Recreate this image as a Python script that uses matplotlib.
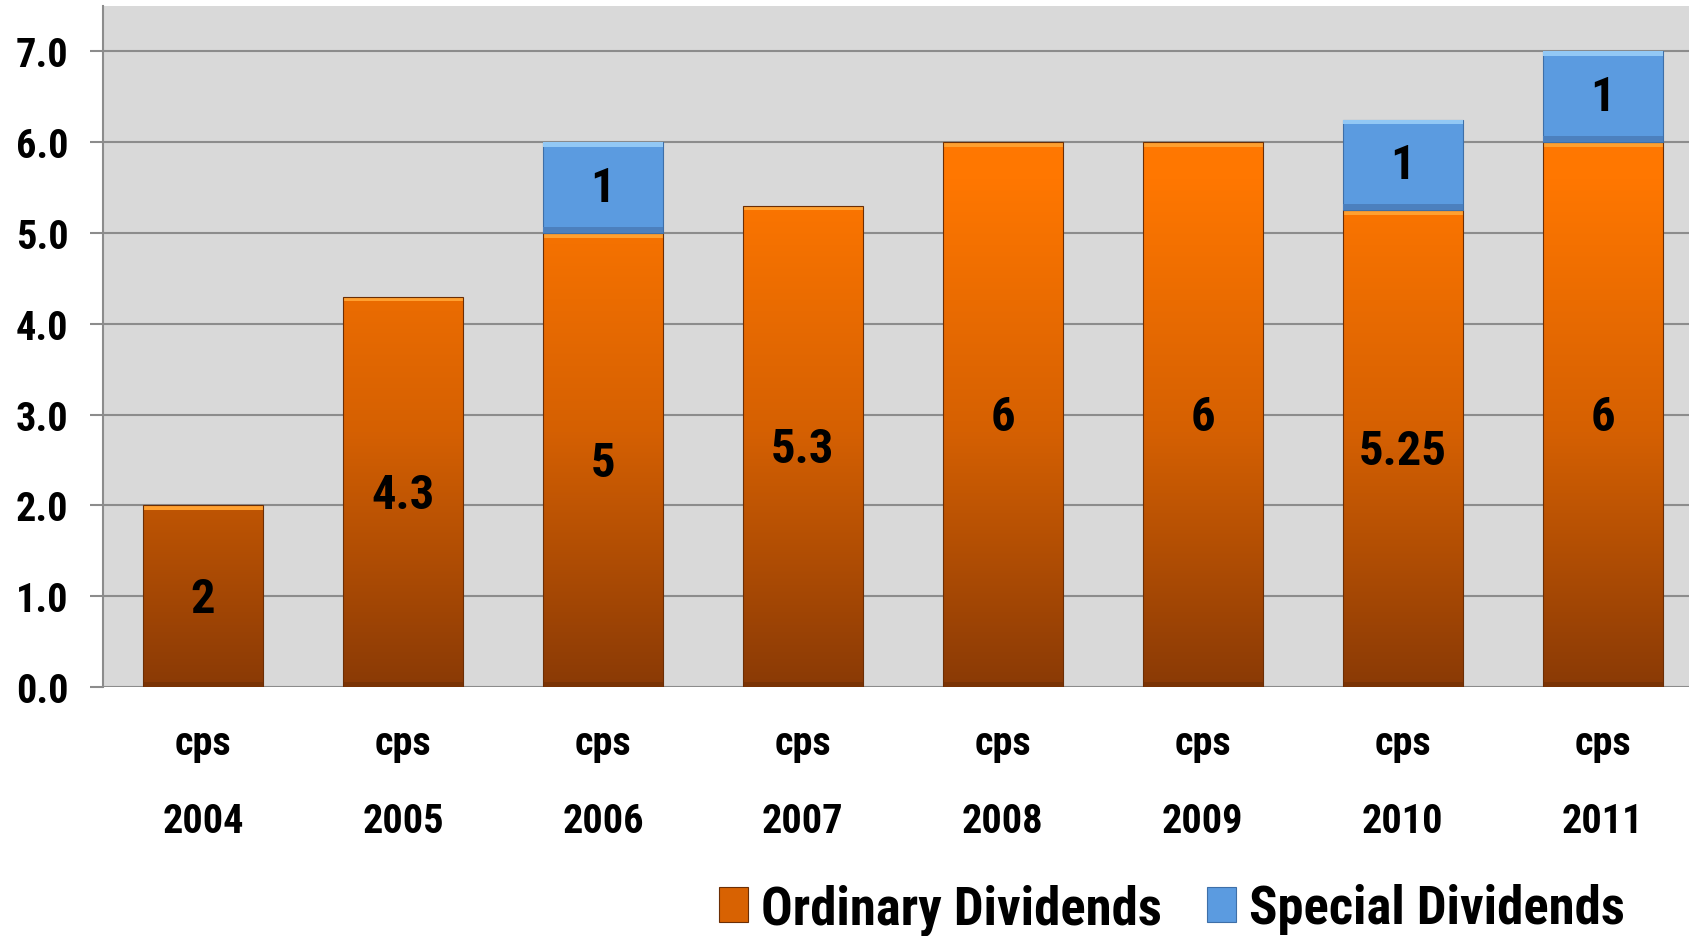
import numpy as np
import matplotlib
matplotlib.use('Agg')
import matplotlib.pyplot as plt
from matplotlib import font_manager
from matplotlib.colors import LinearSegmentedColormap
from matplotlib.patches import Patch, Rectangle

#%% data (cents per share)
years = ['2004', '2005', '2006', '2007', '2008', '2009', '2010', '2011']
ordinary = [2, 4.3, 5, 5.3, 6, 6, 5.25, 6]
special = [0, 0, 1, 0, 0, 0, 1, 1]
yticks = [0, 1, 2, 3, 4, 5, 6, 7]

# look for a narrow / condensed bold face (the original uses Arial Narrow Bold)
cands = []
for f in font_manager.fontManager.ttflist:
    fn = f.fname.lower()
    narrow = ('narrow' in fn or 'condensed' in fn or
              f.stretch in ('condensed', 'semi-condensed', 'extra-condensed'))
    bold = f.weight in ('bold', 700) or 'bold' in fn
    if narrow and bold and 'extra' not in fn and 'semi' not in fn and 'italic' not in fn:
        cands.append(f)
pref = ['liberation', 'roboto', 'dejavu', 'noto', 'open']
cands.sort(key=lambda f: next((i for i, p in enumerate(pref) if p in f.fname.lower()), 99))
if cands:
    fp = dict(fname=cands[0].fname)
else:
    fp = dict(family='DejaVu Sans', weight='bold')

def font(size):
    return font_manager.FontProperties(size=size, **fp)

grid_c = '#8C8C8C'
bg = '#D9D9D9'

fig = plt.figure(figsize=(16.9, 9.37), dpi=100, facecolor='white')
ax = fig.add_axes([0.061, 0.2657, 0.939, 0.7268])
ax.set_facecolor(bg)

x = np.arange(len(years))
w = 0.6

for v in yticks:
    ax.axhline(v, color=grid_c, lw=1.5, zorder=1)

# gradient for orange bars, running over the whole value axis
orange_cm = LinearSegmentedColormap.from_list(
    'org', [(0, '#8A3A06'), (0.4, '#D56002'), (0.8, '#FF7700'), (1, '#FF7A05')])
grad = np.linspace(0, 1, 256).reshape(-1, 1)

bars_o = ax.bar(x, ordinary, w, color='none', edgecolor='#6B2E05', lw=0.8, zorder=3)
for b in bars_o:
    im = ax.imshow(grad, cmap=orange_cm, aspect='auto', origin='lower',
                   extent=[b.get_x(), b.get_x() + w, 0, 7], zorder=2)
    im.set_clip_path(b)
    top = b.get_height()
    ax.add_patch(Rectangle((b.get_x(), top - 0.05), w, 0.05, color='#FFA030',
                           lw=0, zorder=2.5))
    ax.add_patch(Rectangle((b.get_x(), 0), w, 0.06, color='#7A3304',
                           lw=0, zorder=2.5))

bars_s = ax.bar(x, special, w, bottom=ordinary, color='#5B9BE0',
                edgecolor='#3E6FA8', lw=0.8, zorder=3)
for b, s in zip(bars_s, special):
    if s == 0:
        b.set_visible(False)
        continue
    y0 = b.get_y()
    ax.add_patch(Rectangle((b.get_x(), y0 + s - 0.05), w, 0.05, color='#92C8F5',
                           lw=0, zorder=3.5))
    ax.add_patch(Rectangle((b.get_x(), y0), w, 0.07, color='#4C80BE',
                           lw=0, zorder=3.5))

# value labels
for i in range(len(years)):
    ax.text(x[i], ordinary[i] / 2 - 0.03, f'{ordinary[i]:g}', ha='center', va='center',
            fontproperties=font(35), zorder=5)
    if special[i]:
        ax.text(x[i], ordinary[i] + special[i] / 2, f'{special[i]:g}', ha='center',
                va='center', fontproperties=font(35), zorder=5)

# category labels below axis
for i, yr in enumerate(years):
    ax.text(x[i], -0.62, 'cps', ha='center', va='center', fontproperties=font(29),
            clip_on=False)
    ax.text(x[i], -1.47, yr, ha='center', va='center', fontproperties=font(29),
            clip_on=False)

ax.set_xlim(-0.5, 7.4375)
ax.set_ylim(0, 7.5)
ax.set_xticks([])
ax.set_yticks(yticks)
ax.set_yticklabels([f'{v:.1f}' for v in yticks], fontproperties=font(29))
ax.tick_params(axis='y', length=9.5, width=1.5, color=grid_c, pad=15.5)
for s in ['top', 'right', 'bottom']:
    ax.spines[s].set_visible(False)
ax.spines['left'].set_color(grid_c)
ax.spines['left'].set_linewidth(1.5)
ax.spines['left'].set_zorder(4)

handles = [Patch(facecolor='#D86202', edgecolor='#6B2E05', lw=0.8),
           Patch(facecolor='#5B9BE0', edgecolor='#3E6FA8', lw=0.8)]
fig.legend(handles, ['Ordinary Dividends', 'Special Dividends'], ncol=2,
           loc='center', bbox_to_anchor=(0.6935, 0.029), frameon=False,
           prop=font(38), handlelength=0.55,
           handleheight=0.65, handletextpad=0.25, columnspacing=0.85)

plt.savefig('out.png', dpi=100, facecolor='white')
